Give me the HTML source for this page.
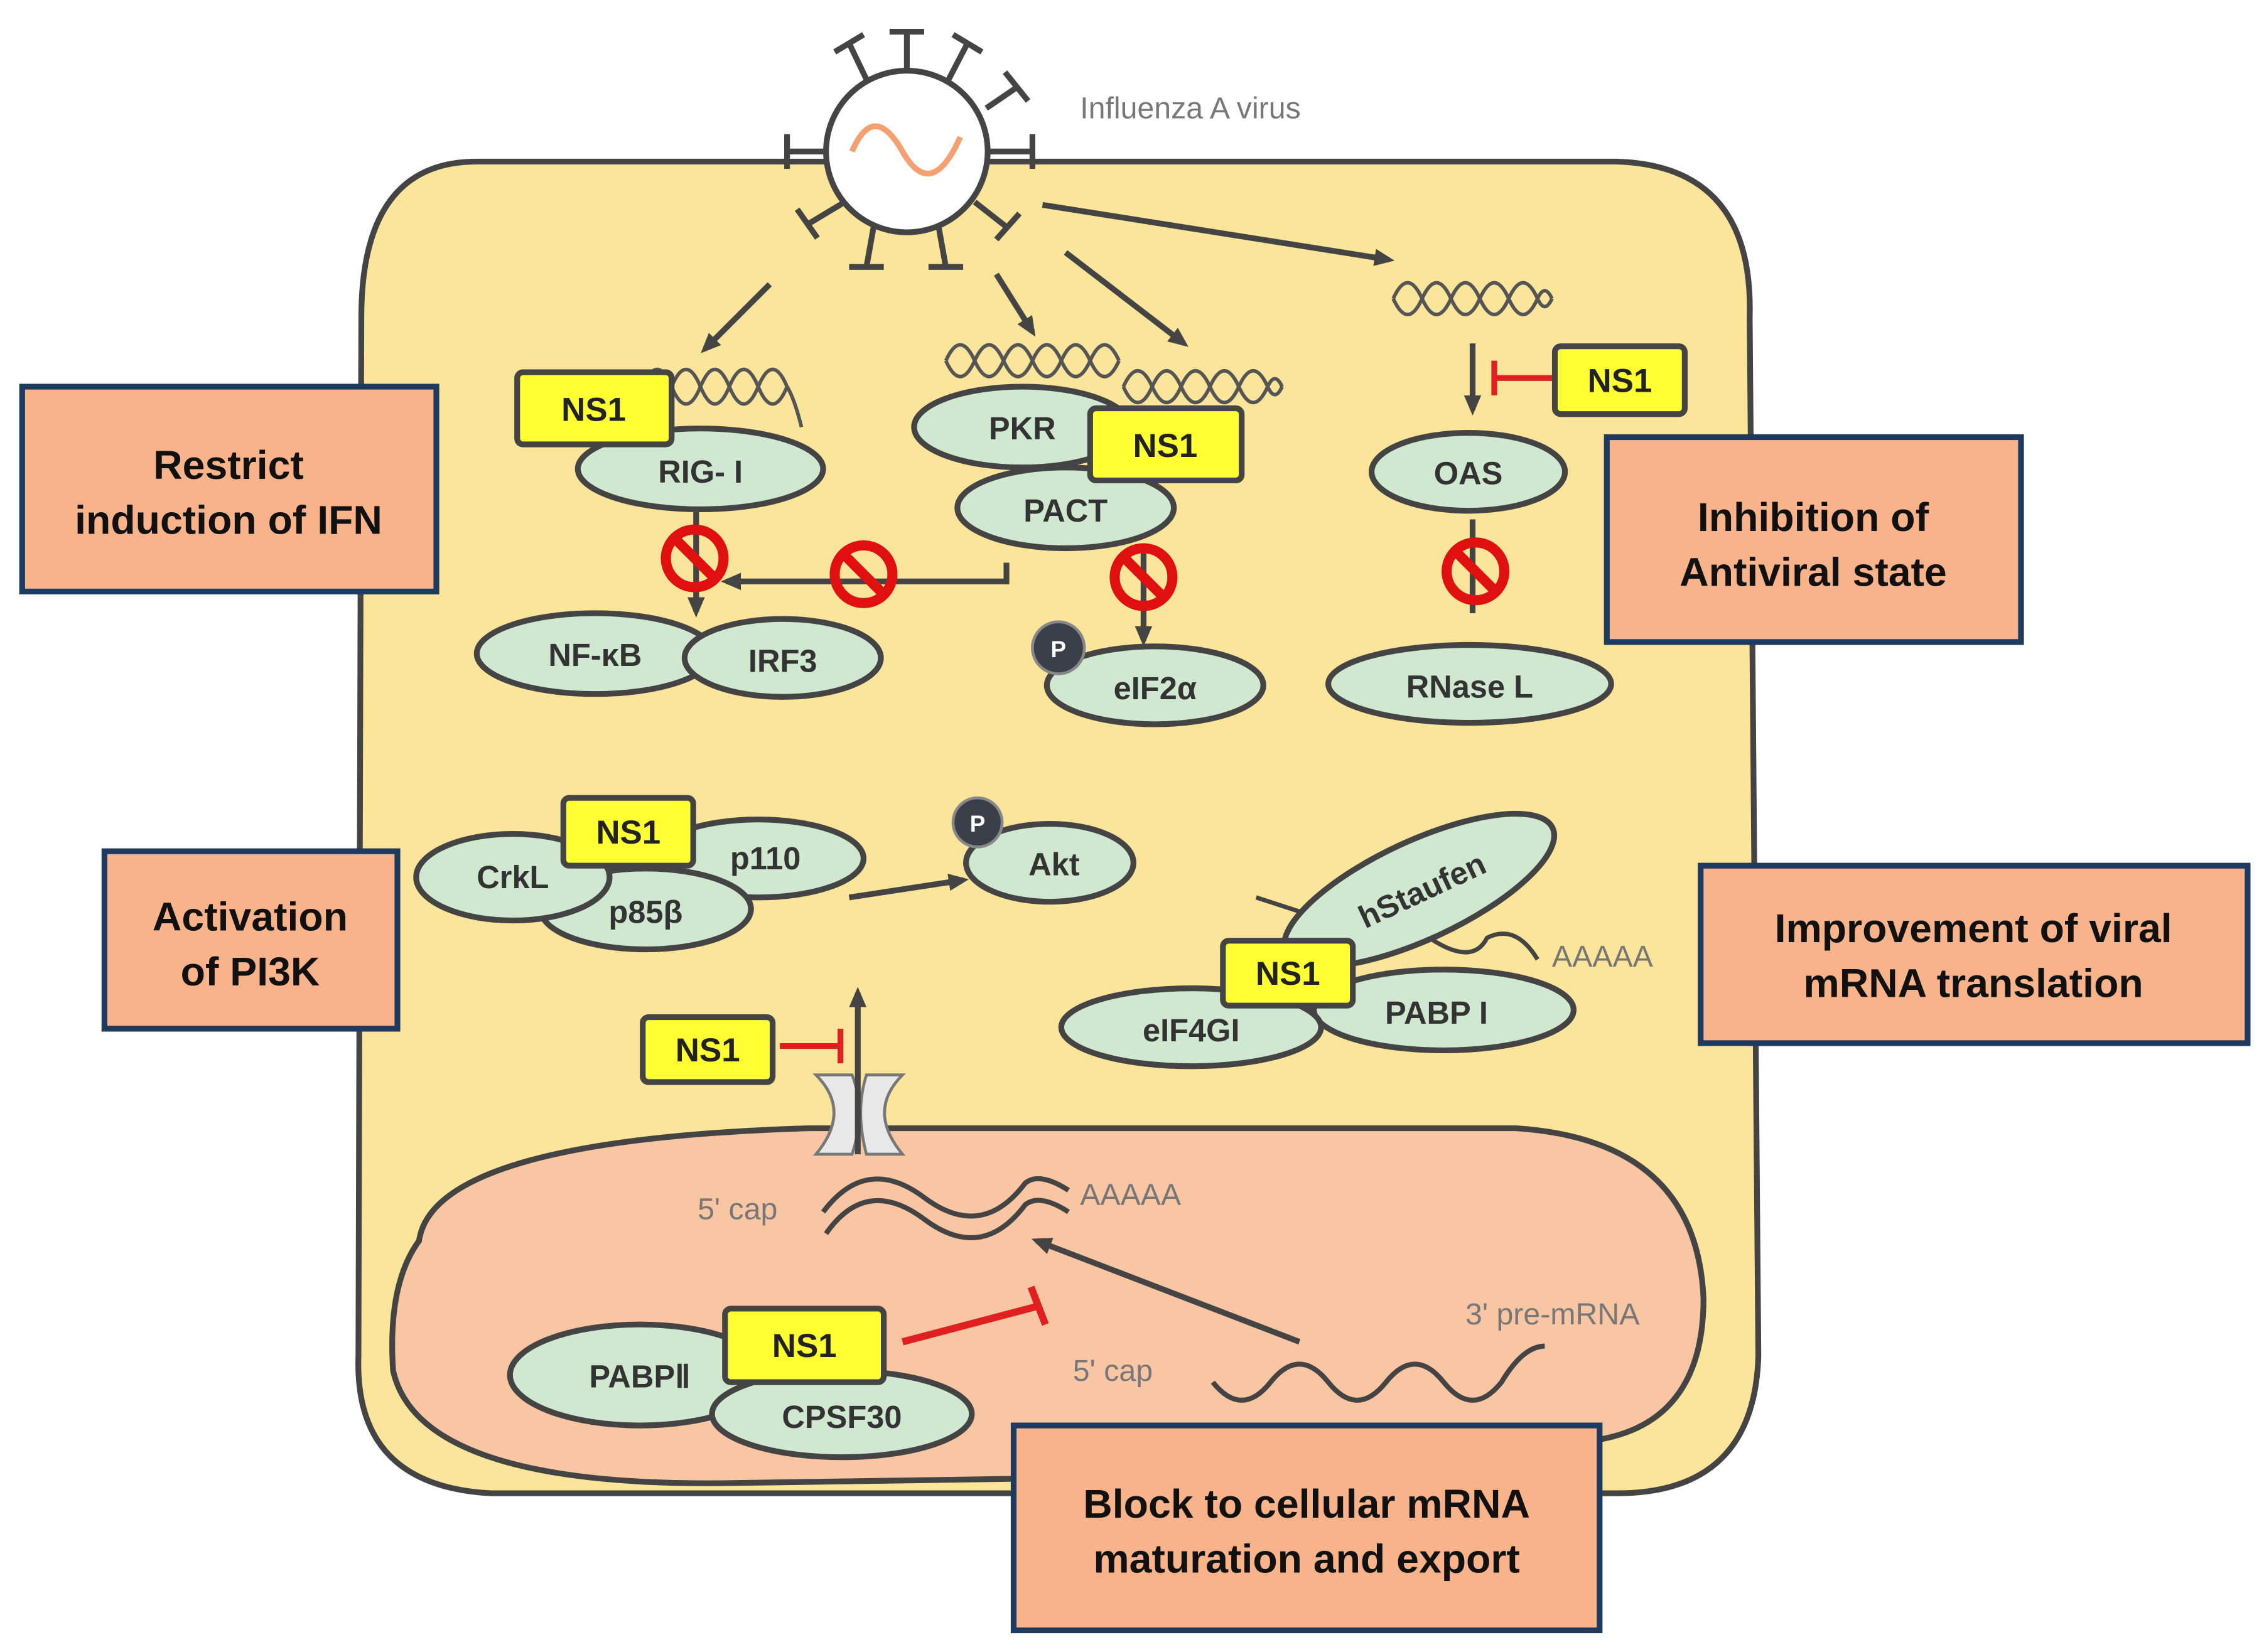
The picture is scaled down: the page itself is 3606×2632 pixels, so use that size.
<!DOCTYPE html>
<html><head><meta charset="utf-8"><style>
html,body{margin:0;padding:0;background:#fff;}
svg{display:block;}
text{font-family:"Liberation Sans",sans-serif;}
.e{fill:#cfe8cf;stroke:#444;stroke-width:4;}
.n{fill:#ffff33;stroke:#444;stroke-width:4;}
.t{font-size:22px;fill:#333;text-anchor:middle;dominant-baseline:central;font-weight:bold;}
.nt{font-size:23px;fill:#222;text-anchor:middle;dominant-baseline:central;font-weight:bold;}
.lb{fill:#f9b38a;stroke:#1f3a5f;stroke-width:4;}
.lt{font-size:28px;fill:#111;text-anchor:middle;font-weight:bold;}
.ar{stroke:#444;stroke-width:4;fill:none;marker-end:url(#ah);}
.gt{font-size:21px;fill:#777;}
</style></head><body>
<svg width="3606" height="2632" viewBox="0 0 1568 1145" xmlns="http://www.w3.org/2000/svg">
<defs>
<marker id="ah" markerWidth="14" markerHeight="14" refX="10" refY="7" orient="auto" markerUnits="userSpaceOnUse"><path d="M0,1 L14,7 L0,13 z" fill="#444"/></marker>
</defs>
<!-- cell -->
<path d="M330,112 L1120,112 Q1215,115 1212,220 L1218,940 Q1215,1035 1120,1035 L340,1035 Q245,1030 248,940 L250,220 Q250,112 330,112 Z" fill="#fbe59a" stroke="#444" stroke-width="4"/>
<!-- nucleus -->
<path d="M290,860 Q300,790 560,782 L1050,782 Q1175,790 1180,900 Q1180,1000 1080,1000 Q900,1010 700,1025 L500,1028 Q290,1030 272,950 Q268,890 290,860 Z" fill="#f9c6a4" stroke="#444" stroke-width="4"/>
<!-- virus spikes -->
<g stroke="#444" stroke-width="4">
<line x1="628" y1="50" x2="628" y2="22"/><line x1="616" y1="22" x2="640" y2="22"/>
<line x1="600" y1="55" x2="588" y2="30"/><line x1="578" y1="36" x2="598" y2="24"/>
<line x1="657" y1="55" x2="670" y2="30"/><line x1="660" y1="24" x2="680" y2="36"/>
<line x1="683" y1="75" x2="705" y2="60"/><line x1="696" y1="50" x2="712" y2="70"/>
<line x1="573" y1="105" x2="545" y2="105"/><line x1="545" y1="93" x2="545" y2="117"/>
<line x1="683" y1="105" x2="715" y2="105"/><line x1="715" y1="93" x2="715" y2="117"/>
<line x1="585" y1="140" x2="560" y2="155"/><line x1="552" y1="145" x2="566" y2="165"/>
<line x1="605" y1="157" x2="600" y2="185"/><line x1="588" y1="185" x2="612" y2="185"/>
<line x1="650" y1="157" x2="655" y2="185"/><line x1="643" y1="185" x2="667" y2="185"/>
<line x1="675" y1="140" x2="698" y2="158"/><line x1="690" y1="166" x2="706" y2="148"/>
</g>
<circle cx="628" cy="105" r="56" fill="#fff" stroke="#444" stroke-width="4"/>
<path d="M590,105 Q605,70 625,105 Q645,140 665,95" fill="none" stroke="#f4a070" stroke-width="4"/>
<text x="748" y="82" class="gt">Influenza A virus</text>
<!-- arrows from virus -->
<line x1="533" y1="197" x2="488" y2="242" class="ar"/>
<line x1="690" y1="190" x2="715" y2="230" class="ar"/>
<line x1="738" y1="175" x2="820" y2="238" class="ar"/>
<line x1="722" y1="142" x2="962" y2="180" class="ar"/>
<!-- dsRNA helices -->
<g fill="none" stroke="#555" stroke-width="2.5">
<path d="M445,268 q10,-24 20,0 q10,24 20,0 q10,-24 20,0 q10,24 20,0 q10,-24 20,0 q5,8 10,28"/>
<path d="M445,268 q10,24 20,0 q10,-24 20,0 q10,24 20,0 q10,-24 20,0 q10,24 20,0"/>
<path d="M655,250 q10,-22 20,0 q10,22 20,0 q10,-22 20,0 q10,22 20,0 q10,-22 20,0 q10,22 20,0"/>
<path d="M655,250 q10,22 20,0 q10,-22 20,0 q10,22 20,0 q10,-22 20,0 q10,22 20,0 q10,-22 20,0"/>
<path d="M778,268 q10,-22 20,0 q10,22 20,0 q10,-22 20,0 q10,22 20,0 q10,-22 20,0 q5,11 10,0"/>
<path d="M778,268 q10,22 20,0 q10,-22 20,0 q10,22 20,0 q10,-22 20,0 q10,22 20,0 q5,-11 10,0"/>
<path d="M965,207 q10,-22 20,0 q10,22 20,0 q10,-22 20,0 q10,22 20,0 q10,-22 20,0 q5,11 10,0"/>
<path d="M965,207 q10,22 20,0 q10,-22 20,0 q10,22 20,0 q10,-22 20,0 q10,22 20,0 q5,-11 10,0"/>
</g>
<!-- RIG-I group -->
<ellipse cx="485" cy="325" rx="85" ry="28" class="e"/><text x="485" y="327" class="t">RIG- I</text>
<rect x="358" y="258" width="107" height="50" rx="4" class="n"/><text x="411" y="284" class="nt">NS1</text>
<!-- PKR group -->
<ellipse cx="708" cy="296" rx="75" ry="28" class="e"/><text x="708" y="297" class="t">PKR</text>
<ellipse cx="738" cy="352" rx="75" ry="28" class="e"/><text x="738" y="354" class="t">PACT</text>
<rect x="755" y="283" width="105" height="50" rx="4" class="n"/><text x="807" y="309" class="nt">NS1</text>
<!-- OAS -->
<line x1="1020" y1="238" x2="1020" y2="284" class="ar"/>
<line x1="1035" y1="262" x2="1075" y2="262" stroke="#e02020" stroke-width="4"/><line x1="1035" y1="250" x2="1035" y2="274" stroke="#e02020" stroke-width="4"/>
<rect x="1077" y="240" width="90" height="47" rx="4" class="n"/><text x="1122" y="264" class="nt">NS1</text>
<ellipse cx="1017" cy="327" rx="67" ry="27" class="e"/><text x="1017" y="328" class="t">OAS</text>
<!-- arrows to NFkB etc -->
<line x1="482" y1="355" x2="482" y2="424" class="ar"/>
<path d="M697,390 L697,403 L503,403" class="ar"/>
<line x1="792" y1="382" x2="792" y2="444" class="ar"/>
<line x1="1020" y1="360" x2="1020" y2="425" stroke="#444" stroke-width="4"/>
<ellipse cx="412" cy="453" rx="82" ry="28" class="e"/><text x="412" y="454" class="t">NF-κB</text>
<ellipse cx="542" cy="456" rx="68" ry="27" class="e"/><text x="542" y="458" class="t">IRF3</text>
<ellipse cx="800" cy="475" rx="75" ry="27" class="e"/><text x="800" y="477" class="t">eIF2α</text>
<circle cx="733" cy="449" r="18" fill="#3a3f4a" stroke="#888" stroke-width="2"/><text x="733" y="450" class="t" style="fill:#fff;font-size:16px;font-weight:bold">P</text>
<ellipse cx="1018" cy="474" rx="98" ry="27" class="e"/><text x="1018" y="476" class="t">RNase L</text>
<!-- stop signs -->
<g fill="none" stroke="#e01010" stroke-width="7">
<circle cx="481" cy="387" r="20"/><line x1="467" y1="373" x2="495" y2="401"/>
<circle cx="598" cy="398" r="20"/><line x1="584" y1="384" x2="612" y2="412"/>
<circle cx="792" cy="400" r="20"/><line x1="778" y1="386" x2="806" y2="414"/>
<circle cx="1022" cy="396" r="20"/><line x1="1008" y1="382" x2="1036" y2="410"/>
</g>
<!-- PI3K group -->
<ellipse cx="525" cy="595" rx="73" ry="27" class="e"/><text x="530" y="595" class="t">p110</text>
<ellipse cx="447" cy="630" rx="73" ry="28" class="e"/><text x="447" y="632" class="t">p85β</text>
<ellipse cx="355" cy="608" rx="67" ry="30" class="e"/><text x="355" y="608" class="t">CrkL</text>
<rect x="390" y="553" width="90" height="47" rx="4" class="n"/><text x="435" y="577" class="nt">NS1</text>
<line x1="588" y1="622" x2="667" y2="610" class="ar"/>
<ellipse cx="727" cy="598" rx="58" ry="27" class="e"/><text x="730" y="599" class="t">Akt</text>
<circle cx="677" cy="570" r="17" fill="#3a3f4a" stroke="#888" stroke-width="2"/><text x="677" y="571" class="t" style="fill:#fff;font-size:16px;font-weight:bold">P</text>
<!-- translation group -->
<path d="M870,622 L910,635 M935,650 Q960,630 990,650 Q1020,670 1030,650 Q1050,640 1065,665" fill="none" stroke="#444" stroke-width="3"/>
<ellipse cx="983" cy="617" rx="102" ry="34" transform="rotate(-25 983 617)" class="e"/><text x="985" y="617" class="t" transform="rotate(-25 985 617)">hStaufen</text>
<text x="1075" y="670" class="gt">AAAAA</text>
<ellipse cx="1000" cy="700" rx="90" ry="28" class="e"/><text x="995" y="702" class="t">PABP I</text>
<ellipse cx="825" cy="712" rx="90" ry="27" class="e"/><text x="825" y="714" class="t">eIF4GI</text>
<rect x="847" y="652" width="90" height="45" rx="4" class="n"/><text x="892" y="675" class="nt">NS1</text>
<!-- export -->
<rect x="445" y="705" width="90" height="45" rx="4" class="n"/><text x="490" y="728" class="nt">NS1</text>
<line x1="540" y1="725" x2="580" y2="725" stroke="#e02020" stroke-width="4"/><line x1="582" y1="713" x2="582" y2="737" stroke="#e02020" stroke-width="4"/>
<path d="M565,745 Q590,770 565,800 L590,800 Q600,770 590,745 Z" fill="#e8e8e8" stroke="#777" stroke-width="2"/>
<path d="M625,745 Q600,770 625,800 L600,800 Q592,770 600,745 Z" fill="#e8e8e8" stroke="#777" stroke-width="2"/>
<line x1="594" y1="800" x2="594" y2="688" class="ar"/>
<!-- mature mRNA -->
<path d="M570,840 Q600,800 640,830 Q680,860 710,820 Q720,812 740,825" fill="none" stroke="#444" stroke-width="3.5"/>
<path d="M572,855 Q600,815 640,845 Q680,875 710,835 Q720,827 740,840" fill="none" stroke="#444" stroke-width="3.5"/>
<text x="748" y="835" class="gt">AAAAA</text>
<text x="483" y="845" class="gt">5' cap</text>
<line x1="900" y1="930" x2="718" y2="860" class="ar"/>
<path d="M840,958 q20,25 40,0 q20,-25 40,0 q20,25 40,0 q20,-25 40,0 q20,25 40,0 q15,-25 30,-25" fill="none" stroke="#444" stroke-width="3.5"/>
<text x="743" y="957" class="gt">5' cap</text>
<text x="1015" y="918" class="gt">3' pre-mRNA</text>
<line x1="625" y1="930" x2="720" y2="905" stroke="#e02020" stroke-width="5"/><line x1="714" y1="892" x2="724" y2="918" stroke="#e02020" stroke-width="5"/>
<ellipse cx="443" cy="953" rx="90" ry="35" class="e"/><text x="443" y="954" class="t">PABPⅡ</text>
<ellipse cx="583" cy="980" rx="90" ry="30" class="e"/><text x="583" y="982" class="t">CPSF30</text>
<rect x="502" y="907" width="110" height="51" rx="4" class="n"/><text x="557" y="933" class="nt">NS1</text>
<!-- label boxes -->
<rect x="15" y="268" width="287" height="142" class="lb"/>
<text x="158" y="332" class="lt">Restrict</text><text x="158" y="370" class="lt">induction of IFN</text>
<rect x="1113" y="303" width="287" height="142" class="lb"/>
<text x="1256" y="368" class="lt">Inhibition of</text><text x="1256" y="406" class="lt">Antiviral state</text>
<rect x="72" y="590" width="203" height="123" class="lb"/>
<text x="173" y="645" class="lt">Activation</text><text x="173" y="683" class="lt">of PI3K</text>
<rect x="1178" y="600" width="379" height="123" class="lb"/>
<text x="1367" y="653" class="lt">Improvement of viral</text><text x="1367" y="691" class="lt">mRNA translation</text>
<rect x="702" y="988" width="406" height="142" class="lb"/>
<text x="905" y="1052" class="lt">Block to cellular mRNA</text><text x="905" y="1090" class="lt">maturation and export</text>
</svg>
</body></html>
